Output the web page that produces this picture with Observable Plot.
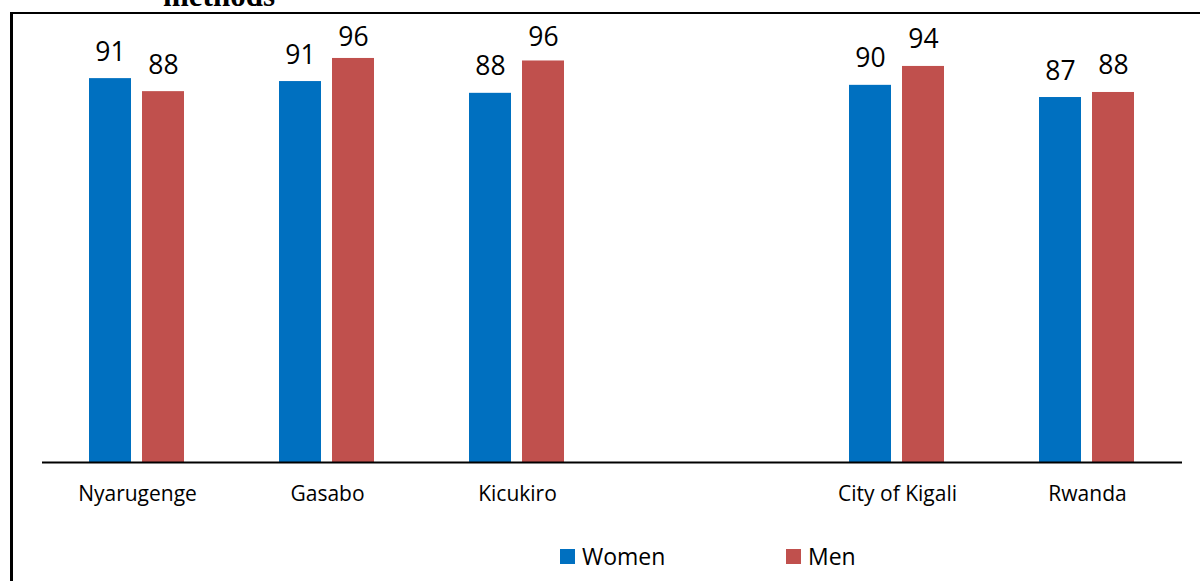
<!DOCTYPE html>
<html>
<head>
<meta charset="utf-8">
<script src="https://cdn.jsdelivr.net/npm/d3@7"></script>
<script src="https://cdn.jsdelivr.net/npm/@observablehq/plot@0.6"></script>
<style>
  html, body { margin: 0; padding: 0; background: #fff; }
  #wrap { position: relative; width: 1200px; height: 581px; overflow: hidden; background: #fff; }
  #border { position: absolute; left: 10px; top: 12px; width: 1300px; height: 700px;
            border-left: 3px solid #000; border-top: 2px solid #000; }
  #title { position: absolute; left: 163px; top: -20px; font-family: "Liberation Serif", serif;
           font-weight: bold; font-size: 31px; line-height: 31px; white-space: nowrap; color: #000; }
  #chart { position: absolute; left: 0; top: 0; }
  .leg { position: absolute; top: 540px; display: flex; align-items: center;
         font-family: "Open Sans", sans-serif; font-size: 23px; color: #000; }
  .leg span.sw { display: inline-block; width: 15px; height: 15px; margin-right: 7px; }
</style>
</head>
<body>
<div id="wrap">
  <div id="border"></div>
  <div id="title">methods</div>
  <div id="chart"></div>
  <div class="leg" style="left:560px"><span class="sw" style="background:#0070C0"></span>Women</div>
  <div class="leg" style="left:786px"><span class="sw" style="background:#C0504D"></span>Men</div>
</div>
<script>
const categories = ["Nyarugenge", "Gasabo", "Kicukiro", " ", "City of Kigali", "Rwanda"];
const series = ["Women", "Men"];
const womenValues = [91.4, 90.7, 87.9, null, 89.8, 86.9];
const menValues   = [88.3, 96.2, 95.6, null, 94.3, 88.1];
const colors = ["#0070C0", "#C0504D"];

const data = [];
categories.forEach((c, i) => {
  if (womenValues[i] != null) data.push({category: c, series: "Women", value: womenValues[i]});
  if (menValues[i] != null) data.push({category: c, series: "Men", value: menValues[i]});
});

const chart = Plot.plot({
  width: 1200,
  height: 530,
  marginLeft: 40,
  marginRight: 17,
  marginTop: 42,
  marginBottom: 68,
  style: {fontFamily: "Open Sans", fontSize: "21px", color: "#000", background: "transparent", overflow: "visible"},
  fx: {domain: categories, padding: 0, axis: "bottom", tickSize: 0, tickPadding: 24, label: null},
  x: {domain: series, paddingInner: 0.204, paddingOuter: 0.866, axis: null},
  y: {domain: [0, 100], axis: null},
  color: {domain: series, range: colors},
  marks: [
    Plot.barY(data, {fx: "category", x: "series", y: "value", fill: "series"}),
    Plot.text(data, {fx: "category", x: "series", y: d => Math.min(d.value, 95), text: d => d3.format(".0f")(d.value),
      dy: -18, lineAnchor: "bottom", fontSize: 26.5, fill: "#000"}),
    Plot.ruleY(categories, {fx: d => d, y: () => 0, stroke: "#000", strokeWidth: 2})
  ]
});
document.getElementById("chart").appendChild(chart);
</script>
</body>
</html>
